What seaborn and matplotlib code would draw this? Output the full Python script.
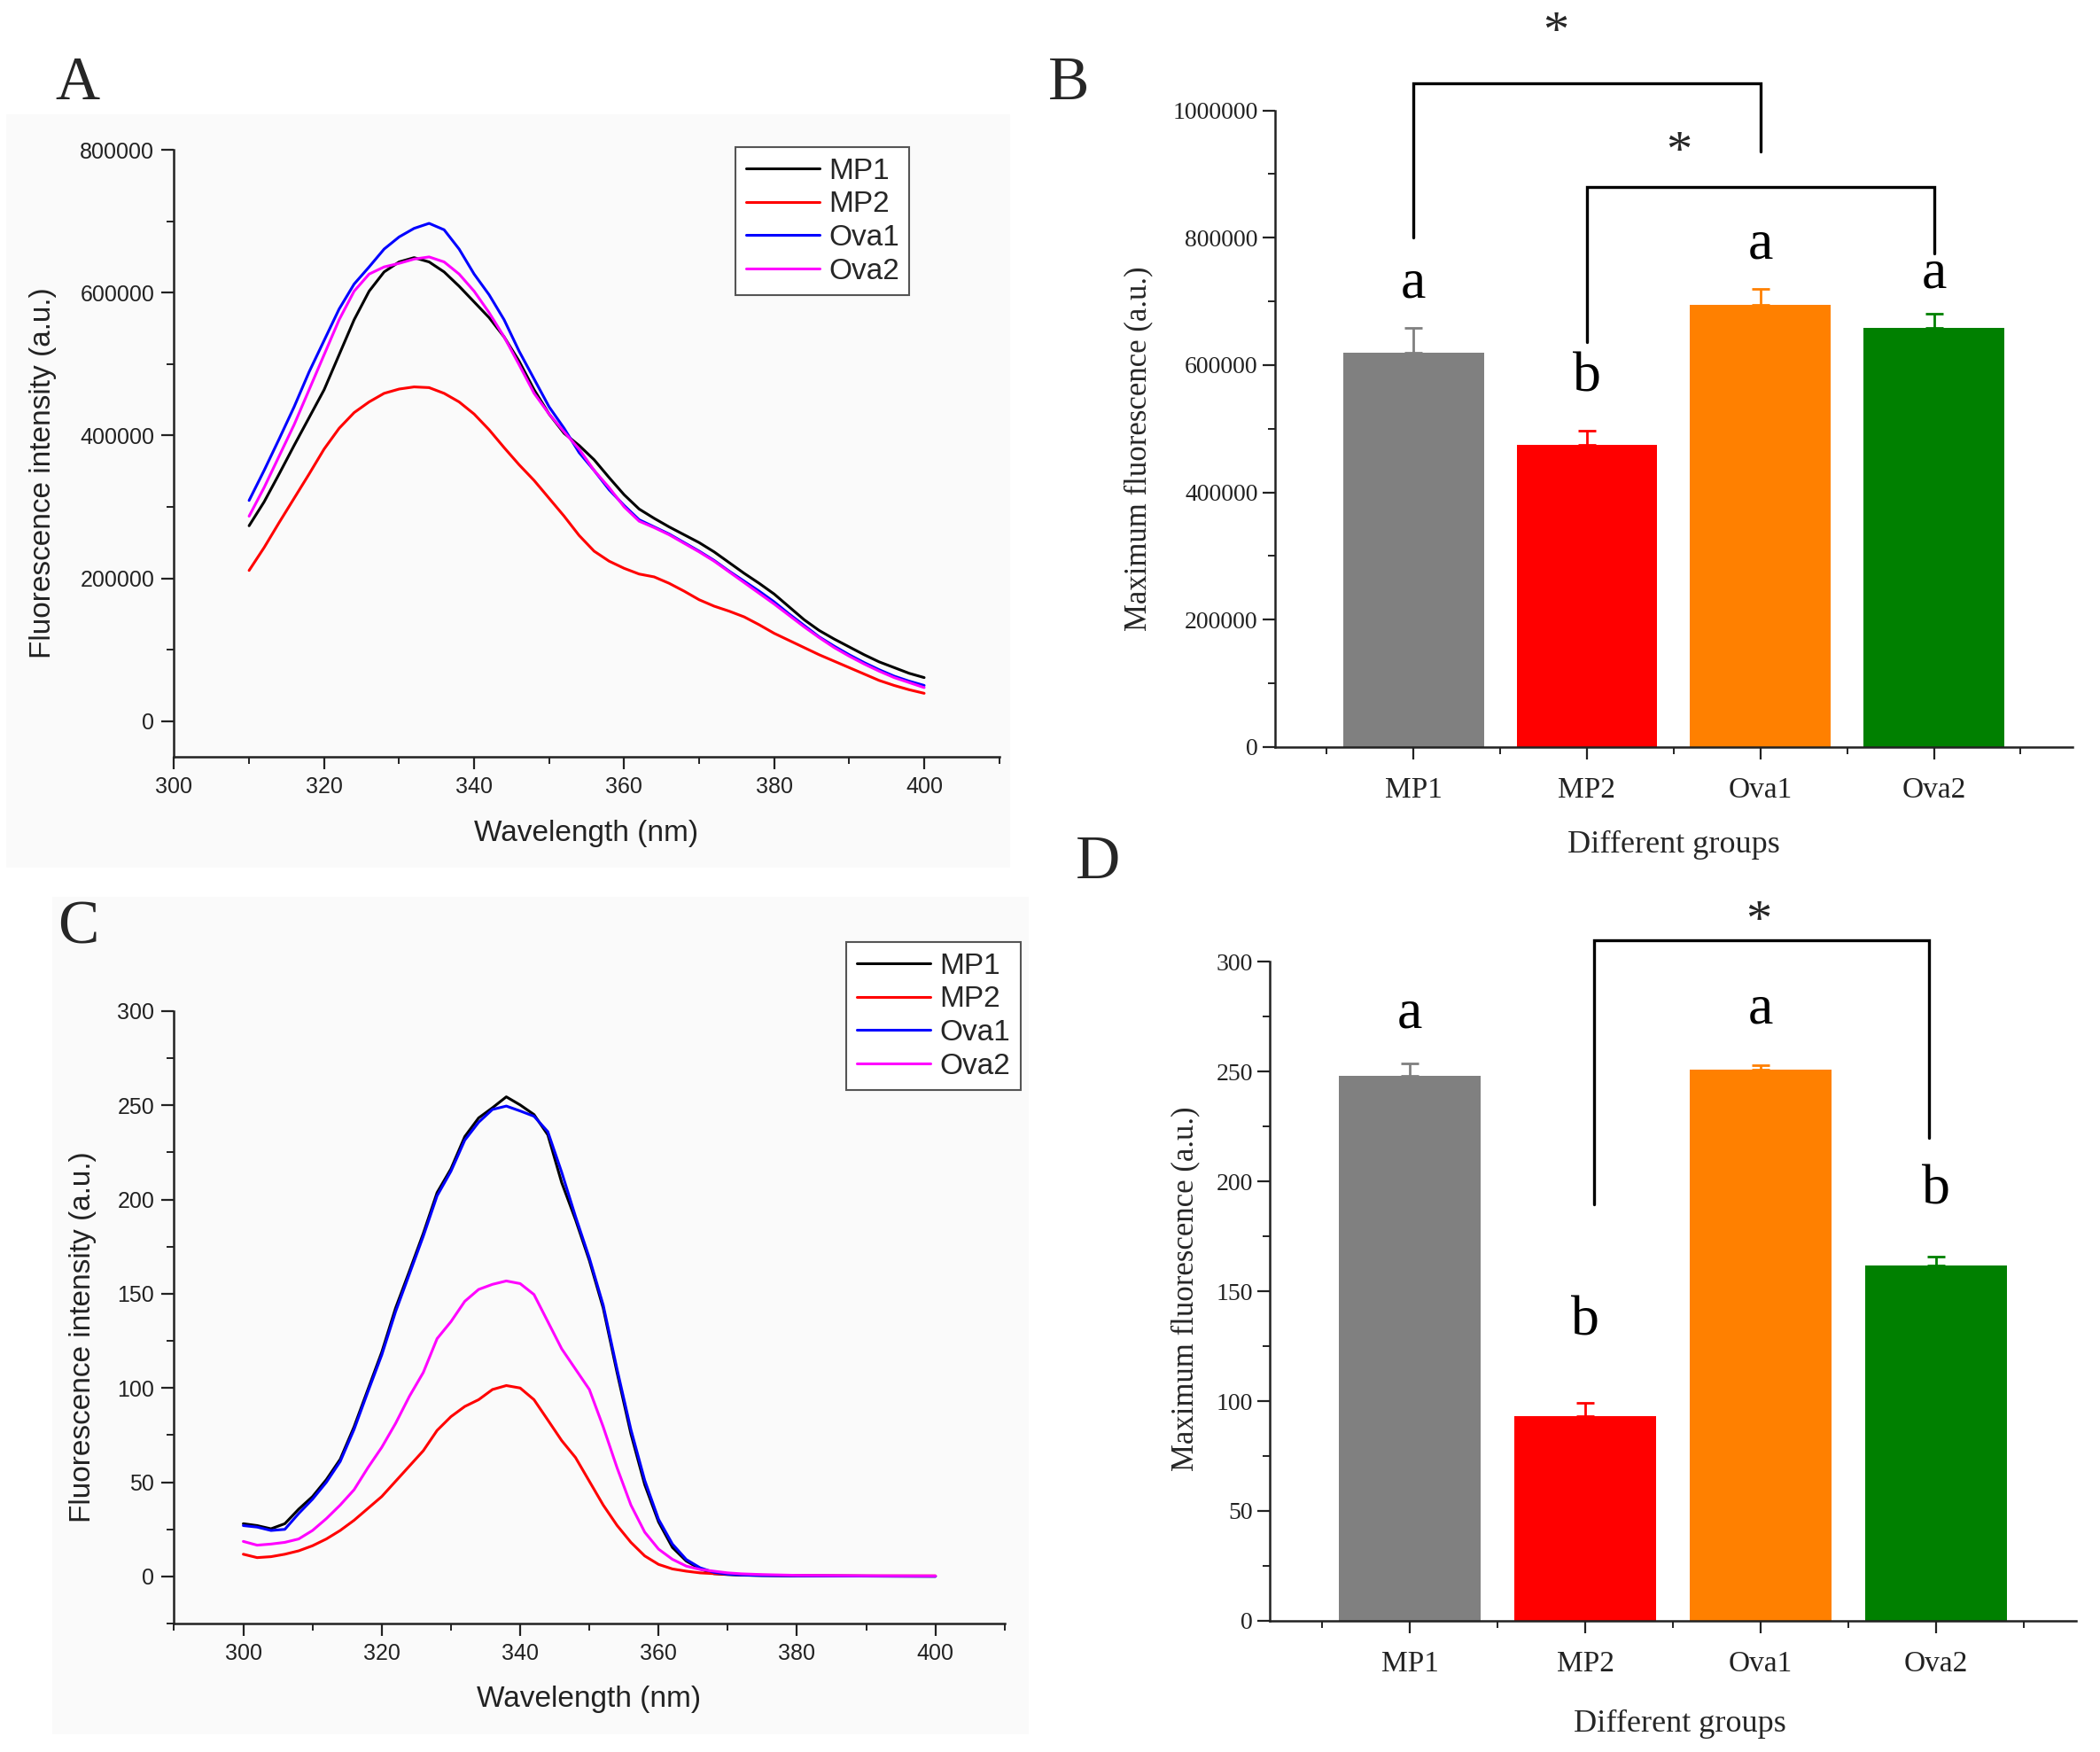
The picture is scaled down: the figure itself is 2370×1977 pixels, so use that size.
import numpy as np
import pandas as pd
import seaborn as sns
import matplotlib.pyplot as plt
from matplotlib.ticker import MultipleLocator, FuncFormatter
from matplotlib.lines import Line2D
from matplotlib.patches import Rectangle

# ---- donnees ----
groups = ["MP1", "MP2", "Ova1", "Ova2"]
line_colors = ["#000000", "#ff0000", "#0000ff", "#ff00ff"]
bar_colors = ["#808080", "#ff0000", "#ff8000", "#008000"]

# A : spectres (x 1000)
wl_a = list(range(310, 401, 2))
a_mp1 = [273.6, 307, 346, 386, 425, 464, 513, 562, 602, 629, 643, 649, 643, 629, 609, 587, 565, 538,
         504, 464, 430, 403, 386, 366, 341, 317, 297,
         284, 272, 261, 250, 237, 222, 207, 193, 178, 160, 142, 127, 115, 104, 93, 83, 75, 67, 61]
a_mp2 = [211, 243, 278, 312, 346, 381, 410, 432, 447, 459, 465, 468, 467, 459, 447, 430, 408, 383,
         359, 337, 312, 287, 260, 238, 224, 214, 206,
         202, 193, 182, 170, 161, 154, 146, 135, 123, 113, 103, 93, 84, 75, 66, 57, 50, 44, 39]
a_ova1 = [309, 351, 395, 440, 489, 533, 577, 612, 636, 661, 678, 690, 697, 688, 661, 626, 597, 562,
          518, 479, 440, 410, 376, 351, 324, 302, 282,
          272, 262, 250, 238, 225, 210, 196, 182, 167, 150, 134, 118, 105, 93, 82, 72, 63, 56, 50]
a_ova2 = [287, 327, 371, 415, 464, 513, 562, 602, 626, 636, 641, 647, 650, 643, 626, 602, 572, 538,
          499, 459, 430, 405, 381, 351, 327, 300, 280,
          271, 261, 249, 237, 224, 209, 194, 179, 164, 148, 132, 117, 103, 91, 80, 70, 61, 54, 47]

# C : spectres
wl_c = list(range(300, 369, 2)) + [370, 372, 375, 380, 390, 400]
c_mp1 = [28, 27, 25.3, 28, 35.7, 42.4, 51.4, 62.2, 79.4, 99.2, 119, 142.4, 162, 182, 203.7, 216.3,
         233.4, 243.3, 248.7, 254.5, 250.2, 245.1, 234.3, 209, 189.3, 167.6, 142.4, 108.2, 75.7,
         48.7, 28.9, 15.4, 8.2, 4, 1.5, 1.0, 0.7, 0.5, 0.3, 0.2, 0.1]
c_mp2 = [11.8, 10, 10.5, 11.8, 13.6, 16.3, 19.9, 24.4, 29.8, 36.1, 42.4, 50.5, 58.6, 66.7, 77.5,
         84.8, 90.2, 93.8, 99.2, 101.3, 100, 93.8, 83, 72.1, 63.1, 50.5, 37.9, 27.1, 18.1, 10.9,
         6.4, 4, 2.8, 1.9, 1.5, 1.2, 1.0, 0.7, 0.5, 0.3, 0.3]
c_ova1 = [27, 26.2, 24.4, 25, 33.4, 41, 50, 61, 78, 98, 117.5, 140.5, 160.5, 180.5, 202, 215,
          231.5, 241, 247.8, 249.6, 247, 244.2, 236, 214.5, 191, 169, 144, 110, 78, 51, 30.3,
          17.2, 9, 4.6, 2.2, 1.2, 0.8, 0.5, 0.3, 0.2, 0.1]
c_ova2 = [18.6, 16.6, 17.2, 18.1, 19.9, 24.4, 30.7, 37.9, 46, 57.7, 68.5, 81.2, 95.6, 108.2, 126.2,
          135.2, 146, 152.3, 155, 156.8, 155.4, 149.6, 135.2, 120.8, 110, 99.2, 79.4, 57.7, 37.9,
          23.5, 14.5, 9.1, 5.5, 3.7, 2.8, 1.9, 1.4, 1.0, 0.6, 0.4, 0.3]

# B et D : maxima
b_vals = [620000, 475000, 694000, 658000]
b_err = [38000, 22000, 25000, 23000]
b_letters = ["a", "b", "a", "a"]
d_vals = [248.2, 93.1, 251.1, 161.7]
d_err = [5.5, 6.3, 1.9, 3.9]
d_letters = ["a", "b", "a", "b"]

SANS = ["Liberation Sans", "DejaVu Sans"]
SERIF = ["Liberation Serif", "DejaVu Serif"]

sns.set_theme(style="ticks")
plt.rcParams["font.family"] = SANS

fig = plt.figure(figsize=(23.7, 19.77), dpi=100)
fig.patch.set_facecolor("white")

# fonds gris tres clair des panneaux A et C
fig.patches.append(Rectangle((0.003, 0.505), 0.478, 0.43, transform=fig.transFigure,
                             facecolor="#fafafa", edgecolor="none", zorder=-10))
fig.patches.append(Rectangle((0.025, 0.01), 0.465, 0.478, transform=fig.transFigure,
                             facecolor="#fafafa", edgecolor="none", zorder=-10))


def spectre(ax, wl, series, xlim, ylim, xmaj, xmin, ymaj, ymin):
    df = pd.DataFrame({"wl": np.tile(wl, 4),
                       "val": np.concatenate(series),
                       "group": np.repeat(groups, len(wl))})
    sns.lineplot(data=df, x="wl", y="val", hue="group", palette=dict(zip(groups, line_colors)),
                 linewidth=2.2, ax=ax, legend=False)
    for ln in ax.lines:
        ln.set_solid_joinstyle("round")
    ax.set_facecolor("none")
    ax.set_xlim(*xlim)
    ax.set_ylim(*ylim)
    ax.xaxis.set_major_locator(MultipleLocator(xmaj))
    ax.xaxis.set_minor_locator(MultipleLocator(xmin))
    ax.yaxis.set_major_locator(MultipleLocator(ymaj))
    ax.yaxis.set_minor_locator(MultipleLocator(ymin))
    ax.yaxis.set_major_formatter(FuncFormatter(lambda v, p: "%d" % round(v)))
    ax.tick_params(which="major", length=10, width=1.6, labelsize=18, colors="#222222", pad=6)
    ax.tick_params(which="minor", length=6, width=1.4, colors="#222222")
    ax.set_xlabel("")
    ax.set_ylabel("")
    for s in ["top", "right"]:
        ax.spines[s].set_visible(False)
    for s in ["left", "bottom"]:
        ax.spines[s].set_linewidth(1.8)
        ax.spines[s].set_color("#222222")


def barres(ax, vals, errs, letters, letter_y, ymax, ymaj, ymin, fmt):
    sns.barplot(x=groups, y=vals, hue=groups, palette=bar_colors, width=0.81, saturation=1,
                legend=False, ax=ax, linewidth=0)
    for i in range(4):
        ax.errorbar(i, vals[i], yerr=[[0], [errs[i]]], fmt="none", ecolor=bar_colors[i],
                    elinewidth=2, capsize=7, capthick=2)
        ax.text(i, letter_y[i], letters[i], ha="center", va="center", fontsize=46,
                family=SERIF, color="black")
    ax.set_xlim(-0.8, 3.8)
    ax.set_ylim(0, ymax)
    ax.set_xticks(range(4))
    ax.set_xticks([-0.5, 0.5, 1.5, 2.5, 3.5], minor=True)
    ax.yaxis.set_major_locator(MultipleLocator(ymaj))
    ax.yaxis.set_minor_locator(MultipleLocator(ymin))
    ax.yaxis.set_major_formatter(FuncFormatter(fmt))
    ax.tick_params(which="major", length=10, width=1.6, colors="#222222")
    ax.tick_params(which="minor", length=6, width=1.4, colors="#222222")
    ax.tick_params(axis="x", labelsize=24, pad=14)
    ax.tick_params(axis="y", labelsize=20)
    for lab in ax.get_xticklabels() + ax.get_yticklabels():
        lab.set_family(SERIF)
    ax.set_xlabel("")
    ax.set_ylabel("")
    for s in ["top", "right"]:
        ax.spines[s].set_visible(False)
    for s in ["left", "bottom"]:
        ax.spines[s].set_linewidth(1.8)
        ax.spines[s].set_color("#222222")


def crochet(ax, x0, y0, x1, y1, ytop, sx, sy):
    ax.plot([x0, x0, x1, x1], [y0, ytop, ytop, y1], color="black", lw=2.4, clip_on=False,
            solid_joinstyle="miter")
    ax.text(sx, sy, "*", ha="center", va="center", fontsize=42, family=SERIF, clip_on=False)


# ---- A ----
axA = fig.add_axes([0.0829, 0.568, 0.3929, 0.3465])
spectre(axA, wl_a, [np.array(s) * 1000 for s in [a_mp1, a_mp2, a_ova1, a_ova2]],
        (300, 410), (-50000, 800000), 20, 10, 200000, 100000)

# ---- C ----
axC = fig.add_axes([0.0829, 0.0733, 0.3955, 0.3496])
spectre(axC, wl_c, [c_mp1, c_mp2, c_ova1, c_ova2], (290, 410), (-25, 300), 20, 10, 50, 25)

handles = [Line2D([], [], color=c, lw=2.2) for c in line_colors]
for anchor in [(0.3502, 0.916), (0.403, 0.4623)]:
    leg = fig.legend(handles, groups, loc="upper left", bbox_to_anchor=anchor,
                     bbox_transform=fig.transFigure, borderaxespad=0, fontsize=24,
                     frameon=True, fancybox=False, framealpha=1, edgecolor="#555555",
                     handlelength=2.5, handletextpad=0.3, labelspacing=0.2, borderpad=0.35)
    leg.get_frame().set_linewidth(1.5)

# ---- B ----
axB = fig.add_axes([0.607, 0.5736, 0.380, 0.3634])
barres(axB, b_vals, b_err, b_letters, [727000, 580000, 788000, 743000], 1000000, 200000, 100000,
       lambda v, p: "%d" % round(v))
crochet(axB, 0, 801000, 2, 935000, 1043000, 0.82, 1121000)
crochet(axB, 1, 636000, 3, 775000, 879000, 1.53, 932000)

# ---- D ----
axD = fig.add_axes([0.6046, 0.0749, 0.384, 0.3761])
barres(axD, d_vals, d_err, d_letters, [276, 136, 278, 196], 300, 50, 25,
       lambda v, p: "%d" % round(v))
crochet(axD, 1.05, 189.6, 2.96, 219.7, 310, 1.99, 318)

# ---- titres d'axes ----
fig.text(0.0203, 0.730, "Fluorescence intensity (a.u.)", rotation=90, ha="center", va="center",
         fontsize=24, color="#222222")
fig.text(0.2793, 0.5245, "Wavelength (nm)", ha="center", va="center", fontsize=24, color="#222222")
fig.text(0.0395, 0.237, "Fluorescence intensity (a.u.)", rotation=90, ha="center", va="center",
         fontsize=24, color="#222222")
fig.text(0.2806, 0.030, "Wavelength (nm)", ha="center", va="center", fontsize=24, color="#222222")

fig.text(0.542, 0.744, "Maximum fluorescence (a.u.)", rotation=90, ha="center", va="center",
         fontsize=25, family=SERIF)
fig.text(0.797, 0.5175, "Different groups", ha="center", va="center", fontsize=26, family=SERIF)
fig.text(0.5645, 0.2645, "Maximum fluorescence (a.u.)", rotation=90, ha="center", va="center",
         fontsize=25, family=SERIF)
fig.text(0.800, 0.016, "Different groups", ha="center", va="center", fontsize=26, family=SERIF)

# lettres des panneaux
for (x, y, s) in [(0.0371, 0.952, "A"), (0.509, 0.952, "B"), (0.0371, 0.470, "C"), (0.523, 0.507, "D")]:
    fig.text(x, y, s, ha="center", va="center", fontsize=50, family=SERIF)

fig.savefig("out.png", dpi=100)
